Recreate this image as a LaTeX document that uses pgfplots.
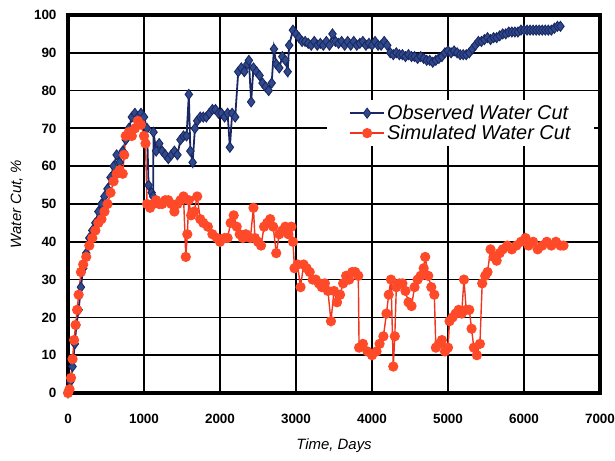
\documentclass[border=0pt]{standalone}
\usepackage{pgfplots}
\pgfplotsset{compat=1.18}
\usepackage{fontspec}
\setmainfont{Liberation Sans}
\definecolor{obsblue}{HTML}{2F4A8C}
\definecolor{obsedge}{HTML}{1B2763}
\definecolor{simred}{HTML}{FF4A2A}
\definecolor{simedge}{HTML}{F0341E}
\begin{document}
\begin{tikzpicture}
\useasboundingbox (-68bp,-68bp) rectangle (547bp,393bp);
\begin{axis}[
  at={(0,0)}, anchor=south west,
  scale only axis, width=532bp, height=378bp,
  xmin=0, xmax=7000, ymin=0, ymax=100,
  xtick={0,1000,...,7000}, ytick={0,10,...,100},
  grid=major, grid style={black, line width=1.8bp, opacity=1},
  major grid style={black, line width=1.8bp, opacity=1},
  axis line style={black, line width=3.5bp},
  tick style={draw=none},
  scaled x ticks=false,
  /pgf/number format/assume math mode=true,
  /pgf/number format/1000 sep={},
  xticklabel style={font=\bfseries\fontsize{13.5}{15}\selectfont, anchor=center, yshift=-26bp},
  yticklabel style={font=\bfseries\fontsize{13.5}{15}\selectfont, anchor=east, xshift=-8bp},
  xlabel={Time, Days}, ylabel={Water Cut, \%},
  xlabel style={font=\itshape\fontsize{15}{18}\selectfont, at={(axis description cs:0.5,-0.14)}, anchor=center},
  ylabel style={font=\itshape\fontsize{15}{18}\selectfont, at={(axis description cs:-0.096,0.5)}, anchor=center},
  legend style={at={(0.99,0.775)}, anchor=north east, draw=none, fill=white,
    font=\itshape\fontsize{20}{23}\selectfont, inner xsep=22bp, inner ysep=3bp,
    row sep=0bp},
  legend cell align=left,
  legend image code/.code={\draw[mark repeat=2,mark phase=2,#1] plot coordinates {(0bp,0bp) (17bp,0bp) (34bp,0bp)};},
]
\addplot[color=obsedge, line width=1.8bp, mark=diamond*, mark size=5bp,
  mark options={fill=obsblue, draw=obsedge, line width=0.9bp}] table {
x y
0 0
30 3
60 7
90 13
110 18
140 22
170 28
200 33
240 37
280 41
320 43
360 45
400 48
440 50
480 52
520 54
560 57
600 60
640 63
680 61
720 64
760 67
800 70
840 73
880 74
920 73
960 74
1000 73
1040 70
1060 55
1100 53
1120 52
1125 69
1160 64
1200 66
1240 64
1280 63
1320 62
1360 63
1400 64
1440 63
1480 67
1520 68
1560 68
1590 79
1610 64
1640 61
1670 70
1700 72
1740 73
1780 73
1820 73
1860 74
1900 75
1940 75
1980 74
2020 74
2060 73
2100 74
2130 65
2160 74
2200 73
2240 85
2280 86
2320 85
2360 87
2380 88
2410 77
2440 86
2480 85
2520 84
2560 82
2600 81
2640 80
2680 82
2710 91
2740 87
2780 86
2820 89
2860 88
2890 85
2910 92
2960 96
3000 95
3040 94
3080 93
3120 93
3160 92.5
3200 92
3240 93
3280 92
3320 92.5
3360 92
3400 93
3440 92
3480 95
3520 93
3560 92.5
3600 93
3640 92
3680 93
3720 92
3760 93
3800 92
3840 92.5
3880 93
3920 92
3960 92.5
4000 92
4040 93
4080 92
4120 92
4160 93
4200 92
4240 90
4280 89.5
4320 90
4360 89.5
4400 89.5
4440 89
4480 89.5
4520 89
4560 89
4600 88.5
4640 89
4680 88.5
4720 88
4760 88
4800 87.5
4840 88
4880 88.5
4920 89
4960 90
5000 90.5
5040 90
5080 90.5
5120 90
5160 89.5
5200 89.5
5240 89.5
5280 90
5320 91
5360 92
5400 93
5440 93
5480 93.5
5520 94
5560 93.5
5600 94
5640 94
5680 94.5
5720 95
5760 95
5800 95.5
5840 95.5
5880 95.5
5920 95.5
5960 96
6000 96
6040 96
6080 96
6120 96
6160 96
6200 96
6240 96
6280 96
6320 96
6360 96
6400 96.5
6440 97
6480 97
};
\addlegendentry{Observed Water Cut}
\addplot[color=simedge, line width=1.4bp, mark=*, mark size=4.4bp,
  mark options={fill=simred, draw=simred}] table {
x y
0 0
20 1
40 4
60 9
80 14
100 18
120 22
140 26
170 32
200 34
240 36
280 39
320 41
360 43
400 45
440 46
480 48
520 50
560 53
600 56
640 58
680 59
720 58
740 63
760 68
800 69
840 68
880 70
920 72
960 71
1000 68
1020 66
1040 50
1080 49
1120 50
1160 51
1200 50
1240 50
1280 51
1320 51
1360 50
1400 48
1440 50
1480 51
1520 52
1550 36
1570 42
1590 51
1620 47
1660 48
1700 52
1740 46
1780 45
1840 44
1900 42
1960 41
2000 40
2060 41
2100 41
2140 45
2180 47
2220 44
2260 42
2300 41
2340 42
2400 41
2440 49
2460 41
2500 40
2540 39
2580 44
2620 45
2660 46
2700 44
2740 37
2780 42
2820 43
2860 44
2900 42
2940 44
2960 40
2980 33
3020 34
3060 28
3100 34
3140 33
3180 32
3220 30
3260 30
3300 29
3340 28
3380 29
3420 27
3460 19
3500 27
3540 24
3580 26
3620 29
3660 31
3700 30
3740 32
3780 32
3820 31
3830 12
3880 13
3940 11
4000 10
4060 11
4100 13
4150 15
4190 21
4220 26
4250 30
4280 7
4300 15
4320 28
4360 29
4400 29
4440 27
4480 24
4520 23
4560 28
4600 30
4640 31
4680 33
4700 36
4740 31
4780 28
4820 26
4840 12
4880 13
4920 14
4960 11
5000 12
5020 19
5060 20
5100 21
5140 22
5180 21
5210 30
5240 22
5280 22
5310 17
5340 12
5380 10
5420 13
5450 29
5490 31
5520 32
5560 38
5600 36
5640 35
5680 37
5720 38
5780 39
5840 38
5900 39
5960 40
6020 41
6060 39
6120 40
6180 38
6240 39
6300 40
6360 39
6420 40
6480 39
6520 39
};
\addlegendentry{Simulated Water Cut}
\draw[black, line width=3.5bp] (rel axis cs:0,0) rectangle (rel axis cs:1,1);
\end{axis}
\end{tikzpicture}
\end{document}
